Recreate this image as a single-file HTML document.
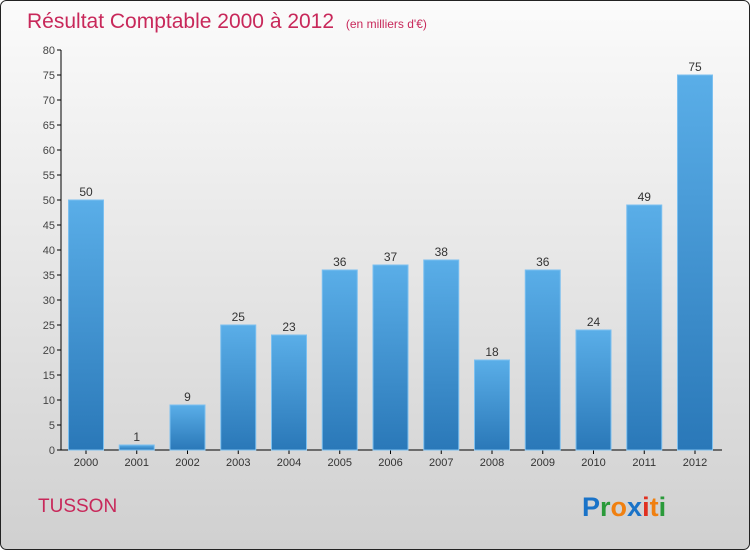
<!DOCTYPE html>
<html><head><meta charset="utf-8"><style>
body{margin:0;width:750px;height:550px;overflow:hidden;font-family:"Liberation Sans",sans-serif}
</style></head><body>
<svg id="c" width="750" height="550" xmlns="http://www.w3.org/2000/svg">
<defs>
<linearGradient id="bg" x1="0" y1="0" x2="0" y2="1"><stop offset="0" stop-color="#fbfbfb"/><stop offset="1" stop-color="#d0d0d0"/></linearGradient>
<linearGradient id="bar" x1="0" y1="0" x2="0" y2="1"><stop offset="0" stop-color="#5aaee8"/><stop offset="1" stop-color="#2a78b8"/></linearGradient>
</defs>
<rect x="0.5" y="0.5" width="749" height="549" rx="6" fill="url(#bg)" stroke="#222"/>
<text x="27" y="28" font-size="21" fill="#c8285a">Résultat Comptable 2000 à 2012 <tspan font-size="12" dx="6">(en milliers d'€)</tspan></text>
<g id="axes"></g><g id="bars"></g>
<text x="38" y="512" font-size="19" fill="#c8285a">TUSSON</text>
<text x="582" y="516" font-size="27" font-weight="bold"><tspan fill="#1a73c8">P</tspan><tspan fill="#2a9a3a">r</tspan><tspan fill="#f08010">o</tspan><tspan fill="#1a73c8">x</tspan><tspan fill="#e03020">i</tspan><tspan fill="#f08010">t</tspan><tspan fill="#2a9a3a">i</tspan></text>
</svg>
<script>
const categories=["2000","2001","2002","2003","2004","2005","2006","2007","2008","2009","2010","2011","2012"];
const values=[50,1,9,25,23,36,37,38,18,36,24,49,75];
const ticks=[0,5,10,15,20,25,30,35,40,45,50,55,60,65,70,75,80];
const NS="http://www.w3.org/2000/svg";
const y=v=>450-v*5, x=i=>86+i*50.75;
function mk(t,a,p){const e=document.createElementNS(NS,t);for(const k in a)e.setAttribute(k,a[k]);p.appendChild(e);return e;}
const ax=document.getElementById('axes'),bs=document.getElementById('bars');
let l=mk('line',{x1:61,y1:50,x2:61,y2:450,stroke:'#000'},ax);


l=mk('line',{x1:61,y1:450,x2:722,y2:450,stroke:'#000'},ax);


ticks.forEach(t=>{mk('line',{x1:57,y1:y(t),x2:61,y2:y(t),stroke:'#000'},ax);
const e=mk('text',{x:55,y:y(t)+4,'font-size':11,fill:'#444','text-anchor':'end'},ax);e.textContent=t;

});
categories.forEach((c,i)=>{
mk('line',{x1:x(i),y1:450,x2:x(i),y2:454,stroke:'#000'},ax);
const t=mk('text',{x:x(i),y:466,'font-size':11,fill:'#333','text-anchor':'middle'},ax);t.textContent=c;


const r=mk('rect',{x:x(i)-17.5,y:y(values[i]),width:35,height:values[i]*5,fill:'url(#bar)',stroke:'#7cc0f0','stroke-width':1},bs);


const v=mk('text',{x:x(i),y:y(values[i])-4,'font-size':12,fill:'#333','text-anchor':'middle'},bs);v.textContent=values[i];


});
</script>
</body></html>
